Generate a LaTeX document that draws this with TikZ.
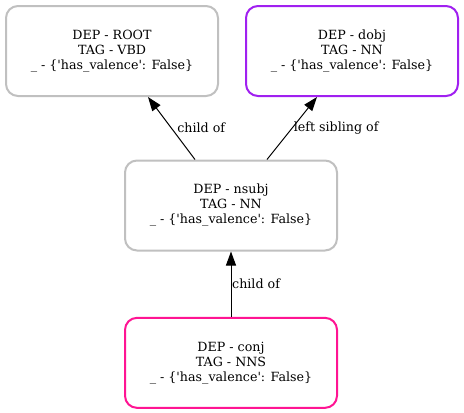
\documentclass[tikz,border=0pt]{standalone}
\usepackage{fontspec}
\setmainfont{DejaVu Serif}
\usetikzlibrary{arrows.meta,positioning,calc}

\definecolor{boxgray}{HTML}{C0C0C0}
\definecolor{dobjpurple}{HTML}{A020F0}
\definecolor{conjpink}{HTML}{FF1493}
\newcommand{\depfont}{\fontsize{9.5pt}{11.25pt}\selectfont}
\newcommand{\valence}{\_ - \{\textquotesingle has\_valence\textquotesingle: False\}}

\begin{document}
\begin{tikzpicture}
[x=0.75pt,y=-0.75pt,
font=\depfont,
token/.style={rectangle,rounded corners=9pt,draw=boxgray,line width=1.5pt,
  fill=white,minimum width=159pt,minimum height=67.5pt,align=center},
rel/.style={-{Triangle[length=10.5pt,width=7.5pt]},line width=0.75pt},
lbl/.style={inner sep=1pt}]
\useasboundingbox (0,0) rectangle (464,412);
\node[token] (root) at (112,51) {DEP - ROOT\\TAG - VBD\\\valence};
\node[token,draw=dobjpurple] (dobj) [right=19.5pt of root] {DEP - dobj\\TAG - NN\\\valence};
\node[token] (nsubj) at (231,205.5) {DEP - nsubj\\TAG - NN\\\valence};
\node[token,draw=conjpink] (conj) [below=49pt of nsubj] {DEP - conj\\TAG - NNS\\\valence};
% relations
\draw[rel] ($(nsubj.north)+(-36,0)$) -- node[lbl,right,xshift=3pt] (lbl1) {child of} ($(root.south)+(36,0)$);
\draw[rel] ($(nsubj.north)+(36,0)$) -- node[lbl,right] (lbl2) {left sibling of} ($(dobj.south)+(-35,0)$);
\draw[rel] (conj.north) -- node[lbl,right,inner sep=0.5pt] (lbl3) {child of} (nsubj.south);
\end{tikzpicture}
\end{document}
